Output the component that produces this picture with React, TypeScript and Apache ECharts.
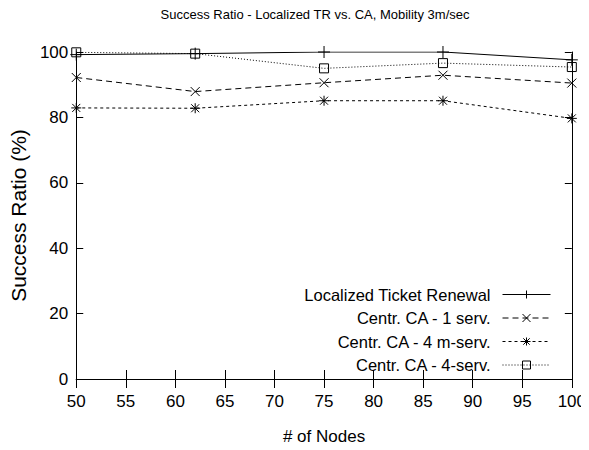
import React, { useEffect, useRef } from "react";
import * as echarts from "echarts";

const nodes = [50, 62, 75, 87, 100];
const localizedTR = [99.2, 99.5, 100, 100, 97.6];
const centr1Serv = [92.2, 87.9, 90.6, 92.9, 90.5];
const centr4MServ = [82.9, 82.8, 85.1, 85.1, 79.7];
const centr4Serv = [99.9, 99.5, 95.0, 96.6, 95.4];

const seriesNames = [
  "Localized Ticket Renewal",
  "Centr. CA - 1 serv.",
  "Centr. CA - 4 m-serv.",
  "Centr. CA - 4-serv.",
];

const FONT = "'Liberation Sans', Arial, Helvetica, sans-serif";

const PLUS = "path://M5,0L5,10M0,5L10,5";
const CROSS = "path://M0,0L10,10M10,0L0,10";
const STAR = "path://M5,0L5,10M0,5L10,5M1,1L9,9M9,1L1,9";

export default function App() {
  const ref = useRef<HTMLDivElement>(null);
  useEffect(() => {
    if (!ref.current) return;
    const chart = echarts.init(ref.current, undefined, { renderer: "svg" });
    const toPairs = (vals: number[]) => nodes.map((n, i) => [n, vals[i]]);
    const defs = [
      { name: seriesNames[0], data: localizedTR, symbol: PLUS, size: 12, dash: "solid" as any },
      { name: seriesNames[1], data: centr1Serv, symbol: CROSS, size: 9, dash: [6, 4] },
      { name: seriesNames[2], data: centr4MServ, symbol: STAR, size: 10, dash: [3, 3] },
      { name: seriesNames[3], data: centr4Serv, symbol: "rect", size: 9, dash: [1, 2] },
    ];
    const legendTops = [281, 304.5, 328, 351.5];
    const xTick = { show: true, inside: true, length: 9, lineStyle: { color: "#000", width: 1 } };
    const yTick = { show: true, inside: true, length: 7, lineStyle: { color: "#000", width: 1 } };
    const axisLine = { show: true, lineStyle: { color: "#000", width: 1 } };
    chart.setOption({
      animation: false,
      backgroundColor: "#fff",
      title: {
        text: "Success Ratio - Localized TR vs. CA, Mobility 3m/sec",
        left: 310,
        top: 3,
        textAlign: "center",
        textStyle: { fontFamily: FONT, fontSize: 13, fontWeight: "normal", color: "#000" },
      },
      grid: { left: 74, right: 17, top: 52, bottom: 70 },
      legend: defs.map((d, i) => ({
        data: [d.name],
        right: 33,
        top: legendTops[i],
        align: "right",
        itemWidth: 48,
        itemHeight: 10,
        itemStyle: { borderWidth: 1 },
        lineStyle: { width: 1 },
        textStyle: { fontFamily: FONT, fontSize: 16.5, color: "#000", padding: [0, 7, 0, 0] },
        selectedMode: false,
      })),
      xAxis: [
        {
          type: "value",
          min: 50,
          max: 100,
          interval: 5,
          name: "# of Nodes",
          nameLocation: "middle",
          nameGap: 49,
          nameTextStyle: { fontFamily: FONT, fontSize: 17, color: "#000" },
          axisLine,
          axisTick: xTick,
          splitLine: { show: false },
          axisLabel: { fontFamily: FONT, fontSize: 17, color: "#000", margin: 14 },
        },
        {
          type: "value",
          position: "top",
          min: 50,
          max: 100,
          interval: 5,
          axisLine,
          axisTick: xTick,
          splitLine: { show: false },
          axisLabel: { show: false },
        },
      ],
      yAxis: [
        {
          type: "value",
          min: 0,
          max: 100,
          interval: 20,
          name: "Success Ratio (%)",
          nameLocation: "middle",
          nameGap: 43,
          nameTextStyle: { fontFamily: FONT, fontSize: 21, color: "#000" },
          axisLine,
          axisTick: yTick,
          splitLine: { show: false },
          axisLabel: { fontFamily: FONT, fontSize: 17, color: "#000", margin: 8 },
        },
        {
          type: "value",
          position: "right",
          min: 0,
          max: 100,
          interval: 20,
          axisLine,
          axisTick: yTick,
          splitLine: { show: false },
          axisLabel: { show: false },
        },
      ],
      series: defs.map((d) => ({
        name: d.name,
        type: "line",
        data: toPairs(d.data),
        symbol: d.symbol,
        symbolSize: d.size,
        showAllSymbol: true,
        lineStyle: { color: "#000", width: 1, type: d.dash },
        itemStyle: { color: "rgba(0,0,0,0)", borderColor: "#000", borderWidth: 1 },
      })),
    });
    return () => chart.dispose();
  }, []);
  return <div ref={ref} style={{ width: 589, height: 450, margin: -8 }} />;
}
